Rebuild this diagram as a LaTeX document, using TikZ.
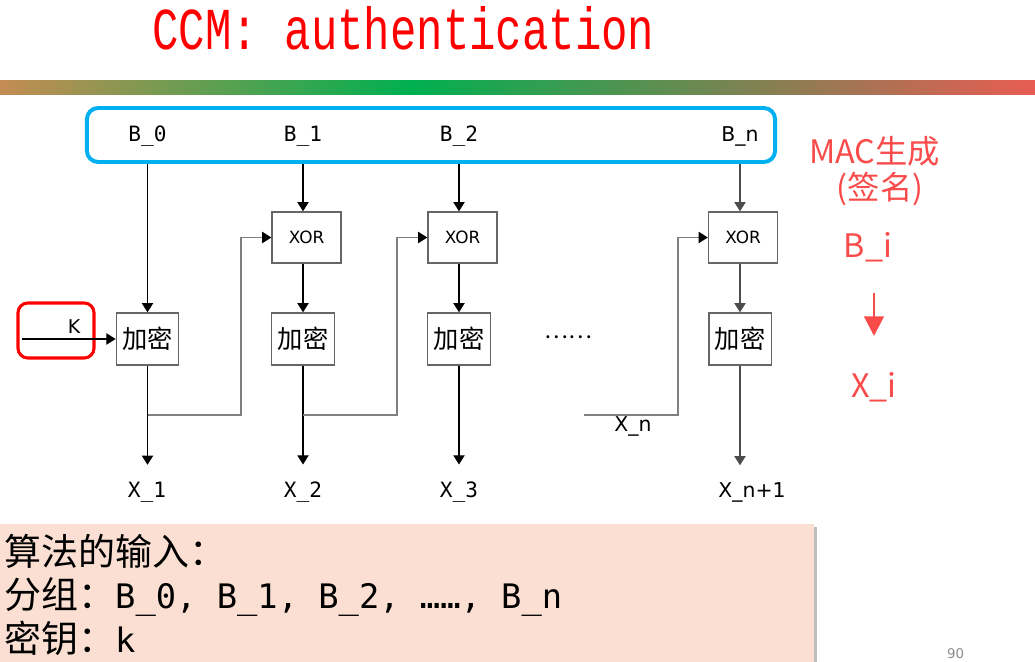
\documentclass[tikz,border=0pt]{standalone}
\usepackage{fontspec}
\usepackage{graphicx}
\setmainfont{DejaVu Sans}
\setmonofont{DejaVu Sans Mono}
\newfontfamily\cjk{Noto Sans CJK SC}
\newfontfamily\titlefont{Liberation Mono}
\usetikzlibrary{arrows.meta}
\definecolor{titlered}{RGB}{255,0,0}
\definecolor{barleft}{RGB}{196,140,82}
\definecolor{bargreen}{RGB}{0,176,80}
\definecolor{barmid}{RGB}{196,140,82}
\definecolor{barright}{RGB}{232,92,84}
\definecolor{blockblue}{RGB}{0,176,240}
\definecolor{notered}{RGB}{250,75,75}
\definecolor{peach}{RGB}{250,223,210}
\tikzset{
	blk/.style={draw=black!60, line width=1pt, inner sep=0pt},
	xorbox/.style={blk, minimum width=1.725cm, minimum height=1.275cm, font=\fontsize{12}{12}\selectfont},
	encbox/.style={blk, minimum width=1.56cm, minimum height=1.3cm, font=\cjk\fontsize{18}{18}\selectfont},
	mono/.style={anchor=base, inner sep=0pt, font=\ttfamily\fontsize{15}{15}\selectfont},
	sans/.style={anchor=base, inner sep=0pt, font=\fontsize{14.5}{14.5}\selectfont},
	flow/.style={line width=0.75pt, -{Triangle[length=6.5pt,width=8pt]}},
	back/.style={line width=1pt, draw=black!50, -{Triangle[length=6.5pt,width=8pt,color=black]}},
	note/.style={text=notered, inner sep=0pt, font=\cjk\fontsize{23}{23}\selectfont},
	info/.style={anchor=base west, inner sep=0pt},
}
\newcommand{\cjkpart}[1]{{\cjk\fontsize{26.3}{26.3}\selectfont #1}}
\newcommand{\monopart}[1]{{\ttfamily\fontsize{24}{24}\selectfont #1}}
\begin{document}
\begin{tikzpicture}[x=0.025cm, y=-0.025cm]
	\useasboundingbox (0,0) rectangle (1035,662);
	\node[text=titlered, font=\titlefont\fontsize{31.3}{31.3}\selectfont, anchor=base, inner sep=0pt] (title) at (403.5,50) {\scalebox{1}[1.35]{CCM: authentication}};
	\shade[left color=barleft, right color=bargreen] (0,81) rectangle (410,95);
	\shade[left color=bargreen, middle color=barmid, right color=barright] (410,81) rectangle (1035,95);

	\node[draw=blockblue, line width=2.8pt, rounded corners=8pt, minimum width=17.2cm, minimum height=1.35cm, inner sep=0pt] (blocks) at (431,135) {};
	\node[mono] (b0) at (147.5,142) {B\_0};
	\node[mono] (b1) at (303,142) {B\_1};
	\node[mono] (b2) at (459,142) {B\_2};
	\node[sans] (bn) at (740,142) {B\_n};

		\node[xorbox] (x1) at (306.5,237.5) {XOR};
		\node[xorbox] (x2) at (462.5,237.5) {XOR};
		\node[xorbox] (xn) at (743,237.5) {XOR};
			\node[encbox] (e0) at (147.5,339) {加密};
			\node[encbox] (e1) at (303,339) {加密};
			\node[encbox] (e2) at (459,339) {加密};
			\node[encbox] (en) at (740,339) {加密};
				\node[mono] (o0) at (147,498) {X\_1};
				\node[mono] (o1) at (303,498) {X\_2};
				\node[mono] (o2) at (459,498) {X\_3};
				\node[sans] (on) at (752,498) {X\_n+1};

	\node[draw=red, line width=2.2pt, rounded corners=7pt, minimum width=1.9cm, minimum height=1.375cm, inner sep=0pt] (kbox) at (56,330.5) {};
	\node[inner sep=0pt, font=\fontsize{13.5}{13.5}\selectfont] (k) at (74,327) {K};
	\coordinate (kin) at (22,339);
	\node[inner sep=0pt, font=\cjk\fontsize{16}{16}\selectfont] (dots) at (568,337) {……};
	\node[sans] (xnlbl) at (633,432) {X\_n};
	\coordinate (xnin) at (584,415);
	\coordinate (fn) at (678,415);
	\coordinate (f0) at (241,415);
	\coordinate (f1) at (397,415);

	\draw[flow] (kin) -- (e0.west);
	\draw[flow] (b0 |- blocks.south) -- (e0.north);
	\draw[flow] (b1 |- blocks.south) -- (b1 |- x1.north);
	\draw[flow] (b2 |- blocks.south) -- (b2 |- x2.north);
	\draw[flow, draw=black!70] (en |- blocks.south) -- (en |- xn.north);
	\draw[flow] (e1 |- x1.south) -- (e1.north);
	\draw[flow] (e2 |- x2.south) -- (e2.north);
	\draw[flow, draw=black!70] (en |- xn.south) -- (en.north);
	\draw[flow, shorten >=12.5pt] (e0.south) -- (e0.south |- o0.north);
	\draw[flow, shorten >=12.5pt] (e1.south) -- (e1.south |- o1.north);
	\draw[flow, shorten >=12.5pt] (e2.south) -- (e2.south |- o2.north);
	\draw[flow, draw=black!70, shorten >=12.5pt] (en.south) -- (en.south |- on.north);
	\draw[back] (e0.south |- f0) -- (f0) |- (x1.west);
	\draw[back] (e1.south |- f1) -- (f1) |- (x2.west);
	\draw[back] (xnin) -- (fn) |- (xn.west);

	\node[note] (mac) at (874.5,151) {MAC生成};
	\node[note] (sig) at (880,189) {(签名)};
	\node[note, anchor=base] (bi) at (868,258) {B\_i};
	\node[note, anchor=base] (xi) at (874,398) {X\_i};
	\coordinate (ra) at (874,293);
	\coordinate (rb) at (874,336);
	\draw[line width=1.6pt, notered, -{Triangle[length=14pt,width=14pt]}] (ra) -- (rb);

	\fill[black!25] (814,527) rectangle (817,662);
	\fill[peach] (0,524) rectangle (814,662);
	\node[info] (in1) at (4,565.5) {\cjkpart{算法的输入：}};
	\node[info] (in2) at (4,609) {\cjkpart{分组：}\monopart{B\_0, B\_1, B\_2, ……, B\_n}};
	\node[info] (in3) at (4,652.5) {\cjkpart{密钥：}\monopart{k}};
	\node[text=black!45, inner sep=0pt, font=\fontsize{9.5}{9.5}\selectfont] (pg) at (955.5,654) {90};
\end{tikzpicture}
\end{document}
